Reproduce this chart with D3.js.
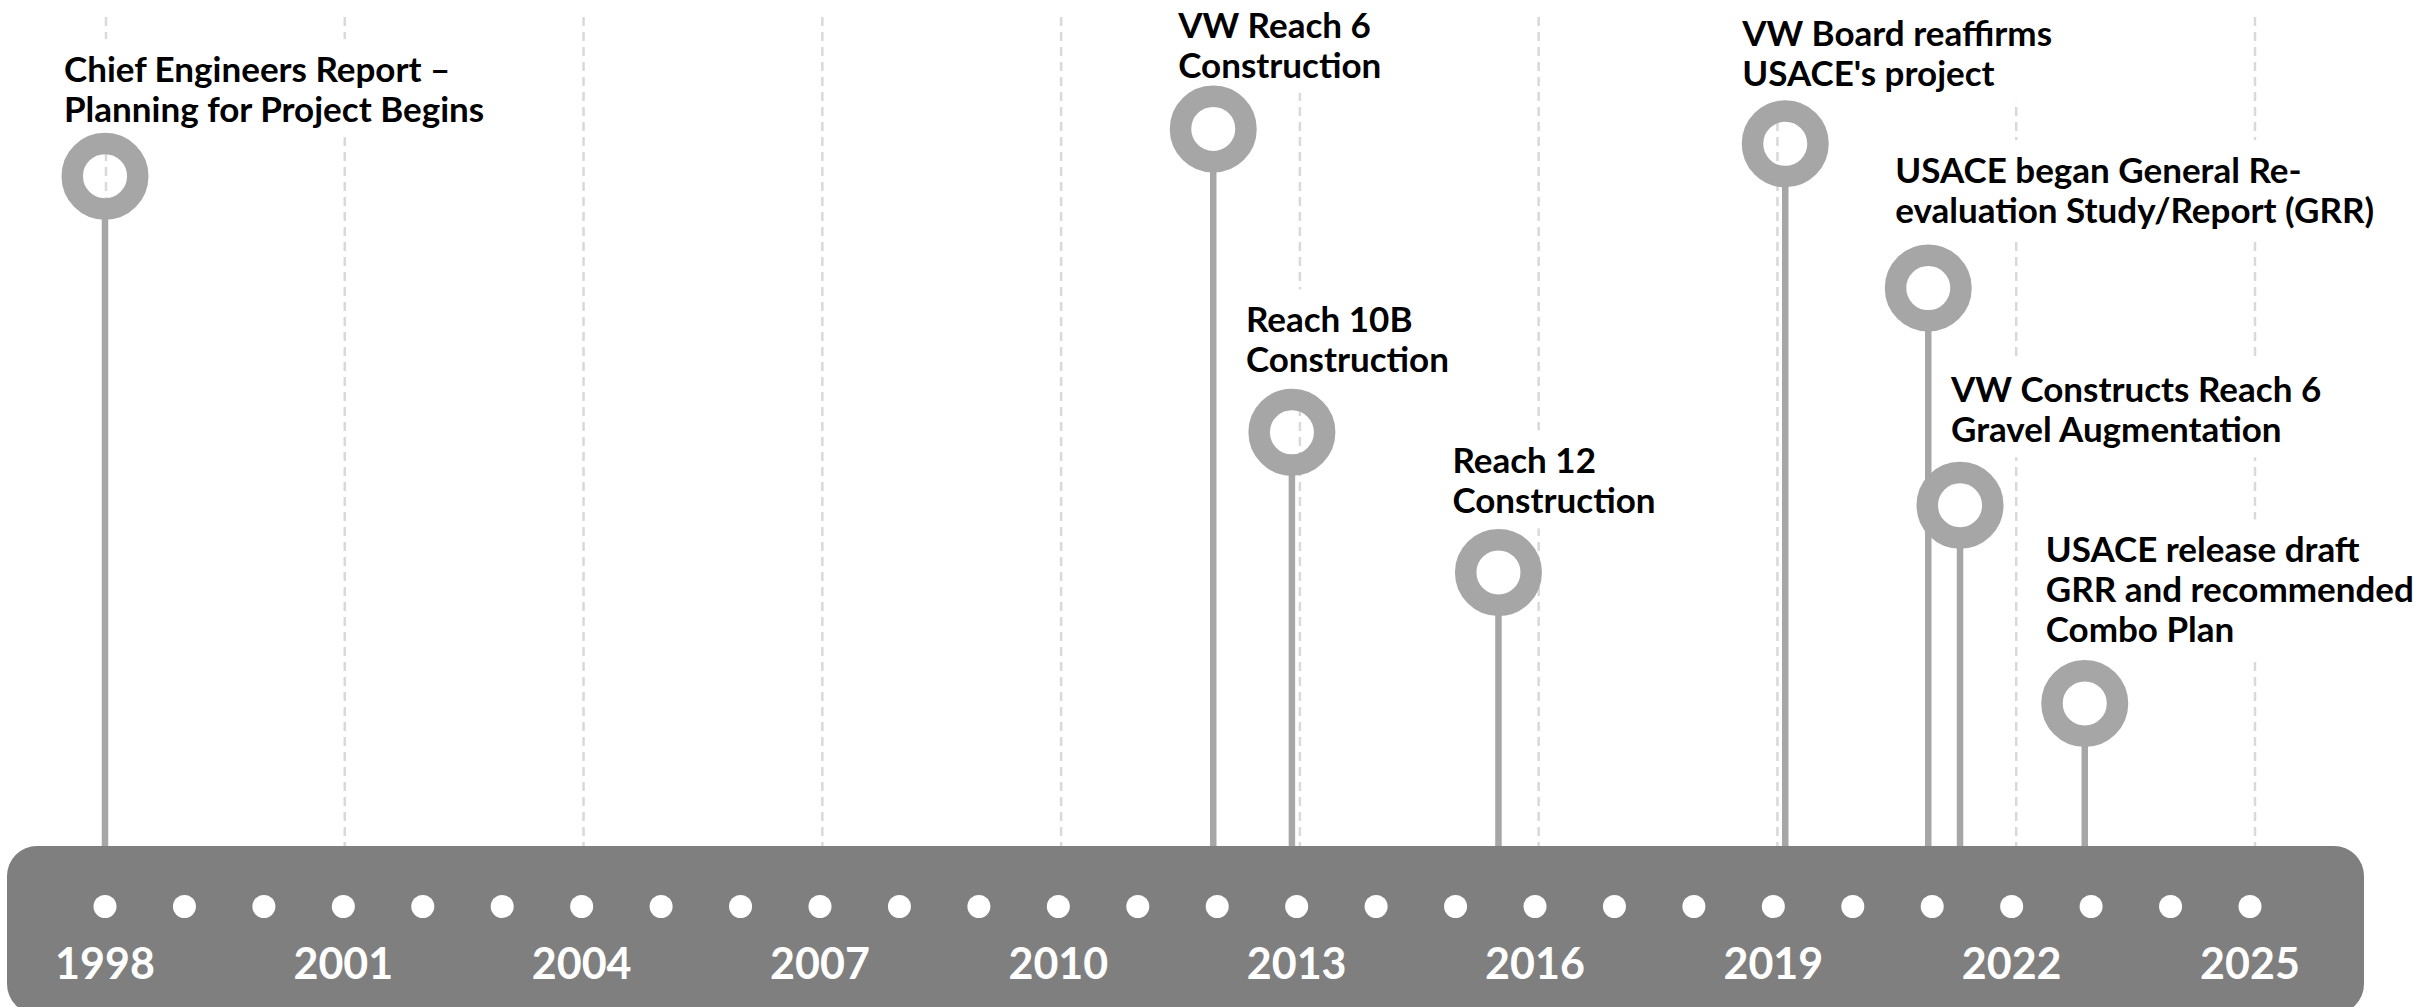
<!DOCTYPE html>
<html>
<head>
<meta charset="utf-8">
<title>Project Timeline</title>
<script src="https://d3js.org/d3.v7.min.js"></script>
<style>
  body { margin: 0; background: #fff; }
  svg { display: block; }
  .label { font-family: Lato, "Open Sans", sans-serif; font-weight: 700; font-size: 35px; fill: #000; }
  .year { font-family: Lato, "Open Sans", sans-serif; font-weight: 700; font-size: 43px; fill: #fff; }
</style>
</head>
<body>
<div id="chart"></div>
<script>
// one dot per year on the bar
var dotYears = [1998, 1999, 2000, 2001, 2002, 2003, 2004, 2005, 2006, 2007,
                2008, 2009, 2010, 2011, 2012, 2013, 2014, 2015, 2016, 2017,
                2018, 2019, 2020, 2021, 2022, 2023, 2024, 2025];

// labelled years (also where the dashed gridlines sit)
var tickYears = [1998, 2001, 2004, 2007, 2010, 2013, 2016, 2019, 2022, 2025];
var tickLabels = ['1998', '2001', '2004', '2007', '2010', '2013', '2016', '2019', '2022', '2025'];

// events: date (decimal year) and pin height (0-100 above the bar)
var eventYears  = [1998.0, 2011.95, 2012.94, 2015.54, 2019.15, 2020.95, 2021.35, 2022.92];
var eventLevels = [80.8, 86.5, 49.9, 33.0, 84.7, 67.3, 41.1, 17.2];
var eventText = [
    ['Chief Engineers Report \u2013', 'Planning for Project Begins'],
    ['VW Reach 6', 'Construction'],
    ['Reach 10B', 'Construction'],
    ['Reach 12', 'Construction'],
    ['VW Board reaffirms', "USACE's project"],
    ['USACE began General Re-', 'evaluation Study/Report (GRR)'],
    ['VW Constructs Reach 6', 'Gravel Augmentation'],
    ['USACE release draft', 'GRR and recommended', 'Combo Plan']
];

// where each label sits relative to its pin (px: left edge, first baseline)
var labelOffsets = [[-41, -94], [-35, -91], [-46, -100], [-46, -99],
                    [-43, -98], [-33, -105], [-9, -103], [-39, -141]];

var width = 2435, height = 1007;
var barTop = 846, plotTop = 17;
var lineHeight = 40;
var ringR = 32.75, ringW = 21.5;
var pinColor = '#a6a6a6';

var x = d3.scaleLinear().domain([1998, 2025]).range([105, 2250]);
var xGrid = d3.scaleLinear().domain([1998, 2025]).range([106, 2255]);
var y = d3.scaleLinear().domain([0, 100]).range([barTop, plotTop]);

var svg = d3.select('#chart')
    .append('svg')
    .attr('width', width)
    .attr('height', height);

// dashed vertical gridlines
svg.append('g')
    .selectAll('line')
    .data(tickYears)
    .enter()
    .append('line')
    .attr('x1', function(d) { return xGrid(d); })
    .attr('x2', function(d) { return xGrid(d); })
    .attr('y1', plotTop)
    .attr('y2', barTop)
    .attr('stroke', '#d9d9d9')
    .attr('stroke-width', 2.5)
    .attr('stroke-dasharray', '9 6');

var events = eventYears.map(function(d, i) {
    return { year: d, level: eventLevels[i], text: eventText[i], off: labelOffsets[i] };
});

// labels (white boxes behind them hide the gridlines like the text boxes do)
var labelLayer = svg.append('g');
events.forEach(function(e) {
    var g = labelLayer.append('g');
    var lx = x(e.year) + e.off[0];
    var ly = y(e.level) + e.off[1];
    var t = g.append('text').attr('class', 'label');
    e.text.forEach(function(line, k) {
        t.append('tspan')
            .attr('x', lx)
            .attr('y', ly + k * lineHeight)
            .text(line);
    });
    var bb = t.node().getBBox();
    g.insert('rect', 'text')
        .attr('x', bb.x - 10)
        .attr('y', bb.y - 8)
        .attr('width', bb.width + 20)
        .attr('height', bb.height + 16)
        .attr('fill', '#fff');
});

// stems
svg.append('g')
    .selectAll('line')
    .data(events)
    .enter()
    .append('line')
    .attr('x1', function(d) { return x(d.year); })
    .attr('x2', function(d) { return x(d.year); })
    .attr('y1', function(d) { return y(d.level) + ringR + ringW / 2 - 2; })
    .attr('y2', barTop + 5)
    .attr('stroke', pinColor)
    .attr('stroke-width', 6.5);

// rings
svg.append('g')
    .selectAll('circle')
    .data(events)
    .enter()
    .append('circle')
    .attr('cx', function(d) { return x(d.year); })
    .attr('cy', function(d) { return y(d.level); })
    .attr('r', ringR)
    .attr('fill', 'none')
    .attr('stroke', pinColor)
    .attr('stroke-width', ringW);

// the timeline bar
svg.append('rect')
    .attr('x', 7)
    .attr('y', barTop)
    .attr('width', 2357)
    .attr('height', 168)
    .attr('rx', 30)
    .attr('fill', '#7f7f7f');

svg.append('g')
    .selectAll('circle')
    .data(dotYears)
    .enter()
    .append('circle')
    .attr('cx', function(d) { return x(d); })
    .attr('cy', 906.5)
    .attr('r', 11.5)
    .attr('fill', '#fff');

svg.append('g')
    .selectAll('text')
    .data(tickYears)
    .enter()
    .append('text')
    .attr('class', 'year')
    .attr('x', function(d) { return x(d); })
    .attr('y', 979)
    .attr('text-anchor', 'middle')
    .text(function(d, i) { return tickLabels[i]; });
</script>
</body>
</html>
